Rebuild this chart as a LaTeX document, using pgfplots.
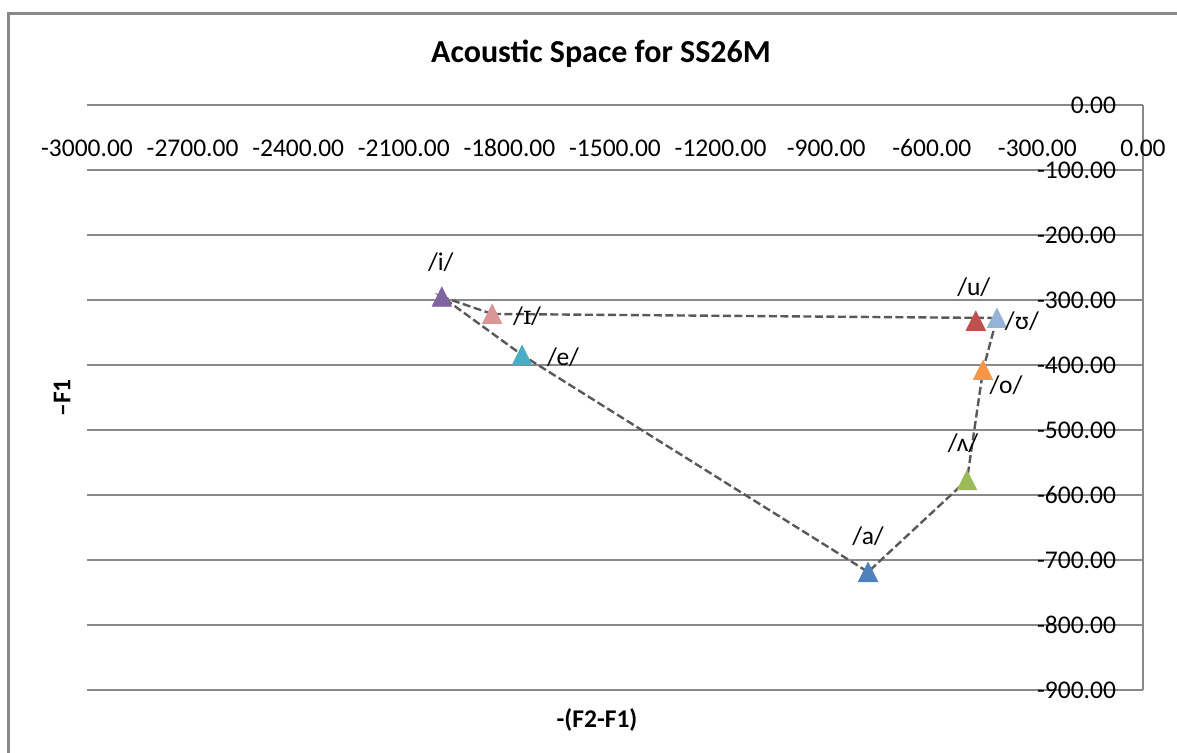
\documentclass[border=0pt]{standalone}
\usepackage{pgfplots}
\pgfplotsset{compat=1.18}
\usepackage{fontspec}
\setmainfont{Carlito}
\newfontfamily\ipaserif{DejaVu Serif}

\definecolor{gridgray}{HTML}{898989}
\definecolor{linegray}{HTML}{595959}
\definecolor{cI}{HTML}{8064A2}
\definecolor{cIh}{HTML}{D99694}
\definecolor{cE}{HTML}{4BACC6}
\definecolor{cA}{HTML}{4F81BD}
\definecolor{cV}{HTML}{9BBB59}
\definecolor{cO}{HTML}{F79646}
\definecolor{cU}{HTML}{C0504D}
\definecolor{cUh}{HTML}{95B3D7}

\newcommand{\lblfont}{\fontsize{12.75}{15}\selectfont}

% triangle marker centred on its bounding box
\pgfdeclareplotmark{boxtri}{%
  \pgfpathmoveto{\pgfqpoint{0pt}{4.8pt}}%
  \pgfpathlineto{\pgfqpoint{4.8pt}{-4.8pt}}%
  \pgfpathlineto{\pgfqpoint{-4.8pt}{-4.8pt}}%
  \pgfpathclose
  \pgfusepathqfillstroke}

% one vowel per series: triangle marker with its label offset from the point
\pgfplotsset{
  vowel/.style n args={4}{
    only marks, mark=boxtri,
    mark options={draw=#1, fill=#1, line width=0.4pt},
    nodes near coords={#2},
    every node near coord/.append style={anchor=center, text=black,
      font=\lblfont, inner sep=0pt, xshift=#3, yshift=#4},
  },
}

\begin{document}
\begin{tikzpicture}[x=0.5pt,y=0.5pt]
\useasboundingbox (0,0) rectangle (1177,753);
% chart frame
\draw[gridgray, line width=1.3pt] (8.7,-5) -- (8.7,739.5) -- (1182,739.5);

\begin{axis}[
  at={(43.5pt,31.5pt)}, anchor=south west,
  scale only axis, width=528pt, height=292.5pt,
  xmin=-3000, xmax=0, ymin=-900, ymax=0,
  axis x line*=top, axis y line*=right,
  axis line style={gridgray, line width=1pt, -},
  ymajorgrids, grid style={gridgray, line width=1pt},
  major tick length=0pt,
  xtick={-3000,-2700,-2400,-2100,-1800,-1500,-1200,-900,-600,-300,0},
  ytick={-900,-800,-700,-600,-500,-400,-300,-200,-100,0},
  scaled ticks=false,
  /pgf/number format/fixed,
  /pgf/number format/fixed zerofill,
  /pgf/number format/precision=2,
  /pgf/number format/1000 sep={},
  /pgf/number format/assume math mode=true,
  tick label style={font=\lblfont, inner sep=0pt},
  xticklabel style={anchor=center, yshift=-21.5pt},
  yticklabel style={anchor=east, xshift=-13.3pt},
  clip=false,
]
\addplot[vowel={cI}{/i/}{-0.5pt}{17.5pt}] coordinates {(-1992,-295)};
\addplot[vowel={cIh}{/{\ipaserif ɪ}/}{17.5pt}{-1pt}] coordinates {(-1849,-321.5)};
\addplot[vowel={cE}{/e/}{20.5pt}{-1pt}] coordinates {(-1764,-384.6)};
\addplot[vowel={cA}{/a/}{0pt}{18pt}] coordinates {(-781,-718.5)};
\addplot[vowel={cV}{/ʌ/}{-2pt}{18.5pt}] coordinates {(-500,-577)};
\addplot[vowel={cO}{/o/}{11.5pt}{-7.5pt}] coordinates {(-454.5,-407.7)};
\addplot[vowel={cU}{/u/}{-1pt}{17pt}] coordinates {(-475,-332)};
\addplot[vowel={cUh}{/ʊ/}{12.5pt}{-1.5pt}] coordinates {(-415,-327.7)};

% vowel space outline
\addplot[linegray, line width=1.2pt, dash pattern=on 4pt off 1.75pt, mark=none]
  coordinates {(-1849,-321.5) (-1992,-295) (-1764,-384.6) (-781,-718.5)
               (-500,-577) (-454.5,-407.7) (-415,-327.7) (-1849,-321.5)};
\end{axis}

\node[font=\fontsize{16}{19}\selectfont\bfseries, anchor=base] at (601,690) {Acoustic Space for SS26M};
\node[font=\lblfont\bfseries] at (597,33) {-(F2-F1)};
\node[font=\lblfont\bfseries, rotate=90] at (62,355) {--F1};
\end{tikzpicture}
\end{document}
